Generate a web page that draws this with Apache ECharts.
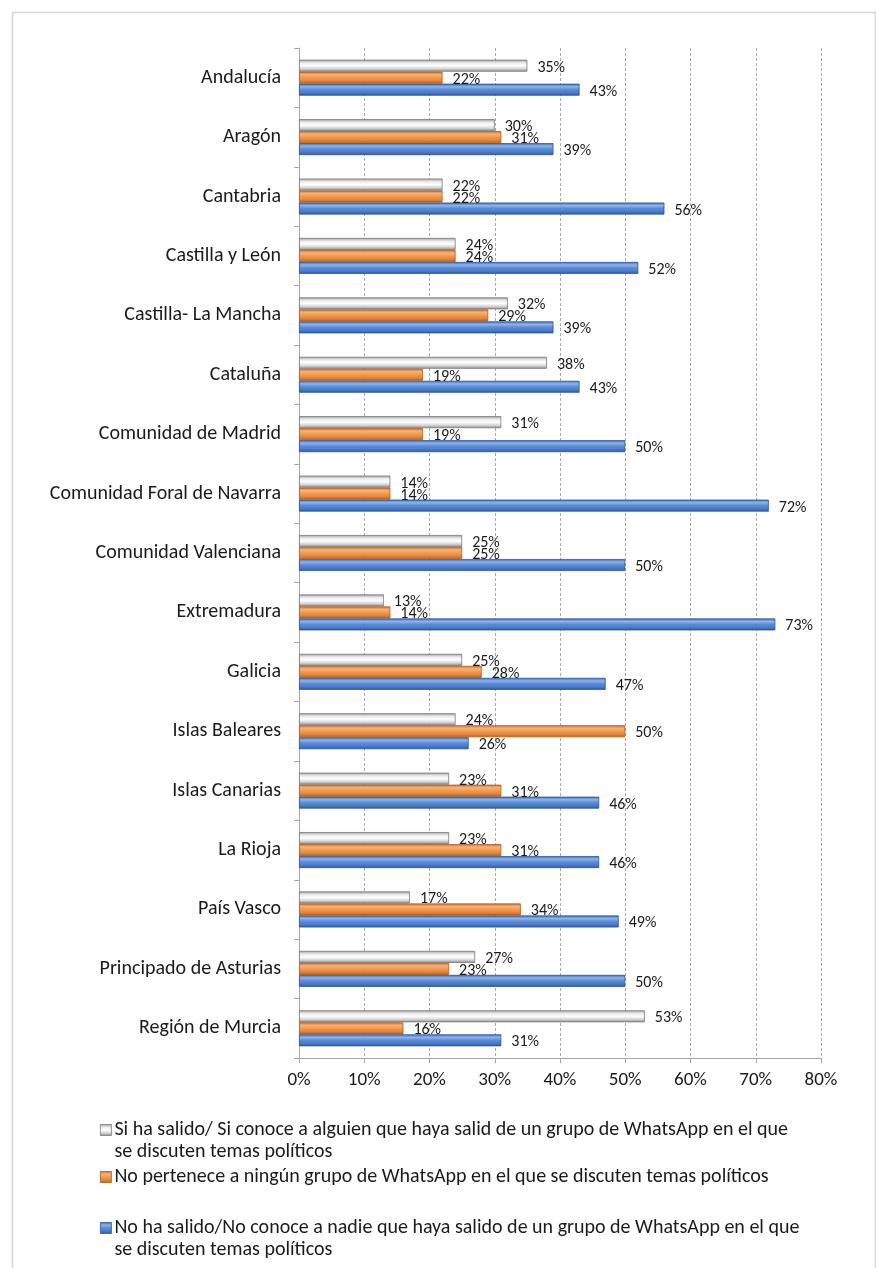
<!DOCTYPE html>
<html>
<head>
<meta charset="utf-8">
<script src="https://cdn.jsdelivr.net/npm/echarts@6/dist/echarts.min.js"></script>
<style>
html,body{margin:0;padding:0;background:#fff;}
#chart{width:876px;height:1268px;}
</style>
</head>
<body>
<div id="chart"></div>
<script>
const categories = [
  'Andalucía', 'Aragón', 'Cantabria', 'Castilla y León', 'Castilla- La Mancha',
  'Cataluña', 'Comunidad de Madrid', 'Comunidad Foral de Navarra', 'Comunidad Valenciana',
  'Extremadura', 'Galicia', 'Islas Baleares', 'Islas Canarias', 'La Rioja',
  'País Vasco', 'Principado de Asturias', 'Región de Murcia'
];
const seriesNames = [
  'Si ha salido/ Si conoce a alguien que haya salid de un grupo de WhatsApp en el que se discuten temas políticos',
  'No pertenece a ningún grupo de WhatsApp en el que se discuten temas políticos',
  'No ha salido/No conoce a nadie que haya salido de un grupo de WhatsApp en el que se discuten temas políticos'
];
const legendLines = [
  ['Si ha salido/ Si conoce a alguien que haya salid de un grupo de WhatsApp en el que', 'se discuten temas políticos'],
  ['No pertenece a ningún grupo de WhatsApp en el que se discuten temas políticos'],
  ['No ha salido/No conoce a nadie que haya salido de un grupo de WhatsApp en el que', 'se discuten temas políticos']
];
const siHaSalido = [35, 30, 22, 24, 32, 38, 31, 14, 25, 13, 25, 24, 23, 23, 17, 27, 53];
const noPertenece = [22, 31, 22, 24, 29, 19, 19, 14, 25, 14, 28, 50, 31, 31, 34, 23, 16];
const noHaSalido = [43, 39, 56, 52, 39, 43, 50, 72, 50, 73, 47, 26, 46, 46, 49, 50, 31];
const xTicks = [0, 10, 20, 30, 40, 50, 60, 70, 80];

const FONT = 'Carlito, Lato, "Open Sans", sans-serif';

function grad(stops) {
  return {
    type: 'linear', x: 0, y: 0, x2: 0, y2: 1,
    colorStops: stops.map((c, i) => ({ offset: i / (stops.length - 1), color: c }))
  };
}
const fills = [
  grad(['#9a9a9a', '#e9e9e9', '#ffffff', '#d6d6d6', '#8a8a8a']),
  grad(['#c8702a', '#f6b27a', '#f39a4e', '#e58638', '#b9601f']),
  grad(['#3a68b4', '#8fb3ea', '#5b8bd6', '#4a7cc9', '#2d589f'])
];
const borders = ['#7a7a7a', '#b15c1c', '#2f5596'];
const values = [siHaSalido, noPertenece, noHaSalido];

const chart = echarts.init(document.getElementById('chart'), null, { renderer: 'canvas' });

const series = seriesNames.map((name, i) => ({
  name: name,
  type: 'bar',
  data: values[i],
  barWidth: 12,
  barGap: '0%',
  itemStyle: { color: fills[i], borderColor: borders[i], borderWidth: 0.8 },
  label: {
    show: true, position: 'right', distance: 10, offset: [0, 2],
    formatter: '{c}%', fontFamily: FONT, fontSize: 16, color: '#1a1a1a'
  },
  emphasis: { disabled: true }
}));

function legendFor(i, top) {
  const lines = legendLines[i];
  return {
    left: 95, top: top, orient: 'vertical',
    data: [{ name: seriesNames[i], icon: 'rect', itemStyle: { color: fills[i], borderColor: borders[i], borderWidth: 0.8 } }],
    itemWidth: 11, itemHeight: 11,
    formatter: () => (lines.length > 1 ? '\n' : '') + lines.join('\n'),
    textStyle: { fontFamily: FONT, fontSize: 20, color: '#1a1a1a', lineHeight: 22, padding: [0, 0, 0, -2] },
    selectedMode: false
  };
}

chart.setOption({
  animation: false,
  backgroundColor: '#fff',
  graphic: [{
    type: 'rect', left: 10, top: 10, z: -10, silent: true,
    shape: { width: 863, height: 1300 },
    style: { fill: 'none', stroke: '#d4d4d4', lineWidth: 1.5 }
  }],
  grid: { left: 299, right: 55, top: 48, bottom: 210, containLabel: false },
  xAxis: {
    type: 'value', min: xTicks[0], max: xTicks[xTicks.length - 1], interval: 10,
    axisLine: { show: true, lineStyle: { color: '#a6a6a6', width: 1 } },
    axisTick: { show: true, length: 5, lineStyle: { color: '#a6a6a6' } },
    axisLabel: { formatter: '{value}%', fontFamily: FONT, fontSize: 19, color: '#1a1a1a', margin: 13 },
    splitLine: { show: true, lineStyle: { color: '#a9a9a9', type: [3, 2], width: 1 } }
  },
  yAxis: {
    type: 'category', data: categories, inverse: true,
    axisLine: { show: true, lineStyle: { color: '#a6a6a6', width: 1 } },
    axisTick: { show: true, length: 5, lineStyle: { color: '#a6a6a6' } },
    axisLabel: { fontFamily: FONT, fontSize: 20, color: '#1a1a1a', margin: 18 },
    splitLine: { show: false }
  },
  legend: [legendFor(0, 1092), legendFor(1, 1161), legendFor(2, 1190)],
  series: series
});
</script>
</body>
</html>
